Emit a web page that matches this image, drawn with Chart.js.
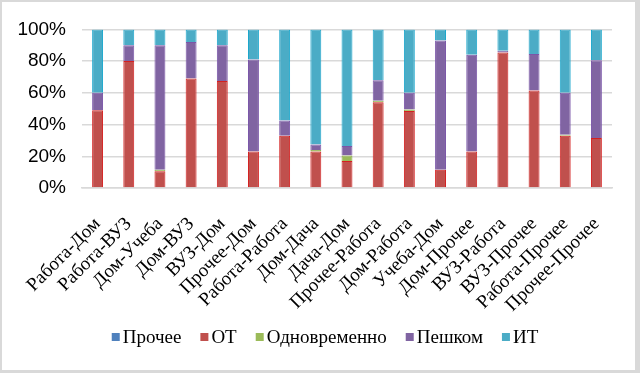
<!DOCTYPE html>
<html>
<head>
<meta charset="utf-8">
<script src="https://cdn.jsdelivr.net/npm/chart.js@4"></script>
<style>
  body { margin: 0; background: #fff; }
  #box {
    position: relative;
    width: 640px; height: 373px; box-sizing: border-box;
    border: 2px solid #d9d9d9; border-right-width: 5px; border-bottom-width: 3px;
    background: #fff;
  }
  #wrap { position: absolute; left: 0; top: 0; width: 633px; height: 368px; }
</style>
</head>
<body>
<div id="box">
  <div id="wrap"><canvas id="chart"></canvas></div>
</div>
<script>
// --- данные ---
const categories = ['Работа-Дом', 'Работа-ВУЗ', 'Дом-Учеба', 'Дом-ВУЗ', 'ВУЗ-Дом', 'Прочее-Дом',
    'Работа-Работа', 'Дом-Дача', 'Дача-Дом', 'Прочее-Работа', 'Дом-Работа', 'Учеба-Дом',
    'Дом-Прочее', 'ВУЗ-Работа', 'ВУЗ-Прочее', 'Работа-Прочее', 'Прочее-Прочее'];
const prochee    = [0, 0, 0, 0, 0, 0, 0, 0, 0, 0, 0, 0, 0, 0, 0, 0, 0];
const ot         = [49, 80, 10.5, 69, 67.5, 23, 33, 23, 17, 54, 48.5, 11.5, 23, 85.5, 61.5, 33, 31.5];
const odnovr     = [0, 0, 1, 0, 0, 0, 0, 1, 3.5, 1, 1, 0, 0, 0, 0, 0.5, 0];
const peshkom    = [11, 10, 78.5, 23, 22.5, 58, 9.5, 3.5, 6, 13, 10.5, 81.5, 61, 1, 23, 26.5, 49];
const it         = [40, 10, 10, 8, 10, 19, 57.5, 72.5, 73.5, 32, 40, 7, 16, 13.5, 15.5, 40, 19.5];
const yTicks = [0, 20, 40, 60, 80, 100];

const SERIF = '"Liberation Serif", "Times New Roman", serif';

function series(label, data, fill, edge) {
    return { label: label, data: data, backgroundColor: fill, borderColor: edge, borderWidth: 1,
        barPercentage: 0.7, categoryPercentage: 0.5 };
}

// легенда как в Excel: маленький квадрат вплотную к тексту
const excelLegend = {
    id: 'excelLegend',
    afterDraw(chart) {
        const ctx = chart.ctx;
        const box = 8, gap = 3, spacing = 19, cy = 335, cx = 323;
        ctx.save();
        ctx.font = '19px ' + SERIF;
        ctx.textBaseline = 'middle';
        const items = chart.data.datasets.map(ds => ({ ds: ds, w: ctx.measureText(ds.label).width }));
        const total = items.reduce((s, it) => s + box + gap + it.w, 0) + spacing * (items.length - 1);
        let x = cx - total / 2;
        items.forEach(it => {
            ctx.fillStyle = it.ds.backgroundColor;
            ctx.fillRect(x, cy - box / 2, box, box);
            ctx.fillStyle = '#000';
            ctx.fillText(it.ds.label, x + box + gap, cy + 1);
            x += box + gap + it.w + spacing;
        });
        ctx.restore();
    }
};

const chart = new Chart(document.getElementById('chart'), {
    type: 'bar',
    data: {
        labels: categories,
        datasets: [
            series('Прочее', prochee, '#4f81bd', '#3a6fb0'),
            series('ОТ', ot, '#c0504d', '#d42020'),
            series('Одновременно', odnovr, '#9bbb59', '#8aad45'),
            series('Пешком', peshkom, '#8064a2', '#7a56a8'),
            series('ИТ', it, '#4bacc6', '#1aa6cc')
        ]
    },
    plugins: [excelLegend],
    options: {
        responsive: true,
        maintainAspectRatio: false,
        animation: false,
        layout: { padding: { top: 26, right: 23, left: 0, bottom: 48 } },
        scales: {
            x: {
                stacked: true,
                afterFit: axis => { axis.height = 134; },
                grid: { display: false },
                border: { color: '#d9d9d9', width: 1.5 },
                ticks: {
                    minRotation: 45, maxRotation: 45, autoSkip: false, padding: 17,
                    color: '#000', font: { family: SERIF, size: 19 }
                }
            },
            y: {
                stacked: true,
                min: 0, max: 100,
                afterFit: axis => { axis.width = 80; },
                afterBuildTicks: axis => { axis.ticks = yTicks.map(v => ({ value: v })); },
                grid: { color: '#d9d9d9', lineWidth: 1.5, drawTicks: false },
                border: { display: false },
                ticks: {
                    padding: 16, color: '#000',
                    font: { family: '"Liberation Sans", Arial, sans-serif', size: 19 },
                    callback: v => v + '%'
                }
            }
        },
        plugins: {
            legend: { display: false },
            tooltip: { enabled: false }
        }
    }
});
</script>
</body>
</html>
